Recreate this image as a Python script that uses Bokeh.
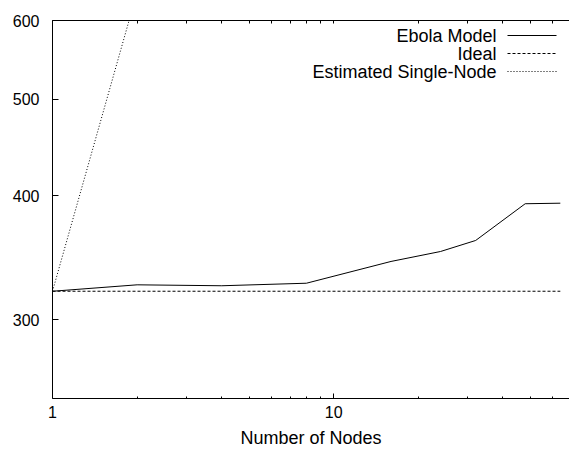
from bokeh.plotting import figure
from bokeh.models import (LogAxis, FixedTicker, Range1d, Label, Arrow)
from bokeh.embed import file_html
from bokeh.resources import INLINE

# ---- data ----
nodes = [1, 2, 4, 8, 16, 24, 32, 48, 64]
ebola_model = [320.5, 325.3, 324.6, 326.5, 343.4, 351.4, 360.5, 392.5, 393.0]
ideal = [320.5] * len(nodes)
single_node_base = 320.5
estimated_single = [n * single_node_base for n in nodes]
series_names = ["Ebola Model", "Ideal", "Estimated Single-Node"]
series_dashes = ["solid", "3 2", "1 2"]
x_ticks = [1, 10]
x_minor_ticks = [2, 3, 4, 5, 6, 7, 8, 9, 20, 30, 40, 50, 60]
y_ticks = [300, 400, 500, 600]

FONT = "Liberation Sans"

p = figure(width=569, height=450, x_axis_type="log", y_axis_type="log",
           x_range=Range1d(1, 69), y_range=Range1d(250, 600),
           output_backend="svg", toolbar_location=None,
           min_border_left=52, min_border_right=0, min_border_top=20,
           min_border_bottom=52, x_axis_label="Number of Nodes")
p.outline_line_color = None
p.grid.visible = False
p.background_fill_color = "white"
p.border_fill_color = "white"

series = [ebola_model, ideal, estimated_single]
for ys, dash in zip(series, series_dashes):
    p.line(nodes, ys, line_color="black", line_width=1, line_dash=dash)

# x axis
xa = p.xaxis[0]
xa.ticker = FixedTicker(ticks=x_ticks, minor_ticks=x_minor_ticks)
xa.major_label_overrides = {t: str(t) for t in x_ticks}
xa.major_tick_in = 5
xa.major_tick_out = 0
xa.minor_tick_in = 2
xa.minor_tick_out = 0
xa.axis_line_color = "black"
xa.major_label_text_font = FONT
xa.major_label_text_font_size = "16px"
xa.major_label_text_color = "black"
xa.major_label_text_line_height = 1.0
xa.major_label_standoff = 7
xa.axis_label_text_font = FONT
xa.axis_label_text_font_size = "18px"
xa.axis_label_text_color = "black"
xa.axis_label_text_font_style = "normal"
xa.axis_label_text_line_height = 1.0
xa.axis_label_standoff = 7

# y axis
ya = p.yaxis[0]
ya.ticker = FixedTicker(ticks=y_ticks, minor_ticks=[])
ya.major_tick_in = 6
ya.major_tick_out = 0
ya.minor_tick_in = 0
ya.minor_tick_out = 0
ya.major_label_text_font = FONT
ya.major_label_text_font_size = "16px"
ya.major_label_text_color = "black"
ya.major_label_standoff = 13

# top mirrored axis (tick marks only)
top = LogAxis(ticker=FixedTicker(ticks=[], minor_ticks=x_ticks + x_minor_ticks),
              major_tick_in=0, major_tick_out=0, minor_tick_in=3, minor_tick_out=0,
              major_label_standoff=0, axis_line_color="black")
p.add_layout(top, "above")

# legend, gnuplot style: right-aligned text with the line sample to its right
for i, (name, dash) in enumerate(zip(series_names, series_dashes)):
    yrow = 363 - 18 * i
    p.add_layout(Label(x=444, y=yrow, x_units="screen", y_units="screen",
                       text=name, text_align="right", text_baseline="middle",
                       text_font=FONT, text_font_size="18px", text_color="black"))
    p.add_layout(Arrow(end=None, start=None, x_start=455, x_end=504,
                       y_start=yrow, y_end=yrow,
                       start_units="screen", end_units="screen",
                       line_color="black", line_width=1, line_dash=dash))

open("out.html", "w").write(file_html(p, INLINE))
